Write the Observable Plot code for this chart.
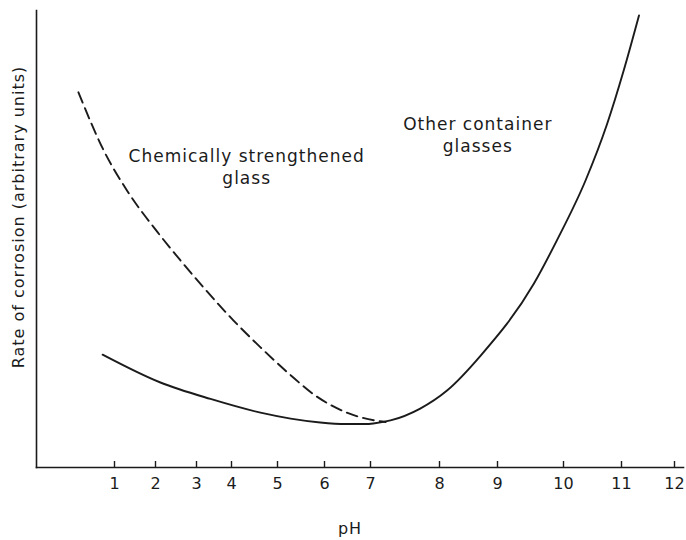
<!DOCTYPE html>
<html><head><meta charset="utf-8">
<script src="https://cdn.jsdelivr.net/npm/d3@7"></script>
<script src="https://cdn.jsdelivr.net/npm/@observablehq/plot@0.6"></script>
<style>
body{margin:0;background:#fff;}
#chart svg{font-family:"DejaVu Sans",sans-serif;}
#chart g[aria-label="text"] text{letter-spacing:1px;}
</style>
</head><body><div id="chart"></div>
<script>
// x tick values (pH) as printed on the original, hand-drawn (uneven) axis
const pHTicks = [1, 2, 3, 4, 5, 6, 7, 8, 9, 10, 11, 12];

// Chemically strengthened glass (dashed)
const dashedPH   = [0.12, 0.73, 1.32, 2.05, 2.61, 3.20, 4.04, 4.63, 5.28, 5.77, 6.50, 7.10, 7.22];
const dashedRate = [82.1, 69.5, 60.4, 51.5, 45.3, 39.4, 32.2, 26.3, 20.2, 16.0, 11.95, 10.2, 9.96];

// Other container glasses (solid)
const solidPH   = [0.71, 2.12, 3.40, 4.63, 5.28, 5.91, 6.46, 6.89, 7.04, 7.29, 7.72, 8.13, 8.71, 9.55, 9.90, 10.38, 10.75, 11.04, 11.33];
const solidRate = [24.7, 18.6, 15.0, 12.0, 10.7, 9.85, 9.52, 9.52, 9.63, 10.3, 12.9, 16.85, 24.5, 40.2, 49.7, 62.8, 75.1, 86.8, 98.9];

// curve annotations
const noteText = ["Chemically strengthened\nglass", "Other container\nglasses"];
const notePH   = [4.33, 8.66];
const noteRate = [65.9, 72.9];

const xLabel = "pH";
const yLabel = "Rate of corrosion (arbitrary units)";

const dashed = dashedPH.map((x, i) => ({pH: x, rate: dashedRate[i]}));
const solid  = solidPH.map((x, i) => ({pH: x, rate: solidRate[i]}));
const notes  = noteText.map((t, i) => ({text: t, pH: notePH[i], rate: noteRate[i]}));

const ink = "#1b1b1b";

const chart = Plot.plot({
  width: 686,
  height: 540,
  marginLeft: 36,
  marginRight: 3,
  marginTop: 10,
  marginBottom: 73,
  style: {fontFamily: "DejaVu Sans, sans-serif", color: ink, background: "#fff"},
  x: {type: "linear", domain: pHTicks, range: [114, 155, 196, 231, 277, 324, 370, 439, 497, 563, 621, 674]},
  y: {domain: [0, 100]},
  marks: [
    Plot.frame({anchor: "left", stroke: ink, strokeWidth: 1.6}),
    Plot.frame({anchor: "bottom", stroke: ink, strokeWidth: 1.6}),
    Plot.tickX(pHTicks, {x: d => d, stroke: ink, strokeWidth: 1.4, insetTop: 451}),
    Plot.axisX({ticks: pHTicks, tickSize: 0, tickPadding: 10, fontSize: 16, label: null, tickFormat: d => String(d)}),
    Plot.axisY({ticks: [], label: null}),
    Plot.line(dashed, {x: "pH", y: "rate", curve: "monotone-x", stroke: ink, strokeWidth: 1.9, strokeDasharray: "11,6"}),
    Plot.line(solid, {x: "pH", y: "rate", curve: "monotone-x", stroke: ink, strokeWidth: 1.9}),
    Plot.text(notes, {x: "pH", y: "rate", text: "text", fontSize: 17, lineHeight: 1.3, fill: ink}),
    Plot.text([xLabel], {frameAnchor: "bottom", dy: 66, dx: -10, fontSize: 16, fill: ink}),
    Plot.text([yLabel], {frameAnchor: "left", textAnchor: "middle", rotate: -90, dx: -18, dy: -22, fontSize: 16, fill: ink})
  ]
});
document.getElementById("chart").appendChild(chart);
</script>
</body></html>
